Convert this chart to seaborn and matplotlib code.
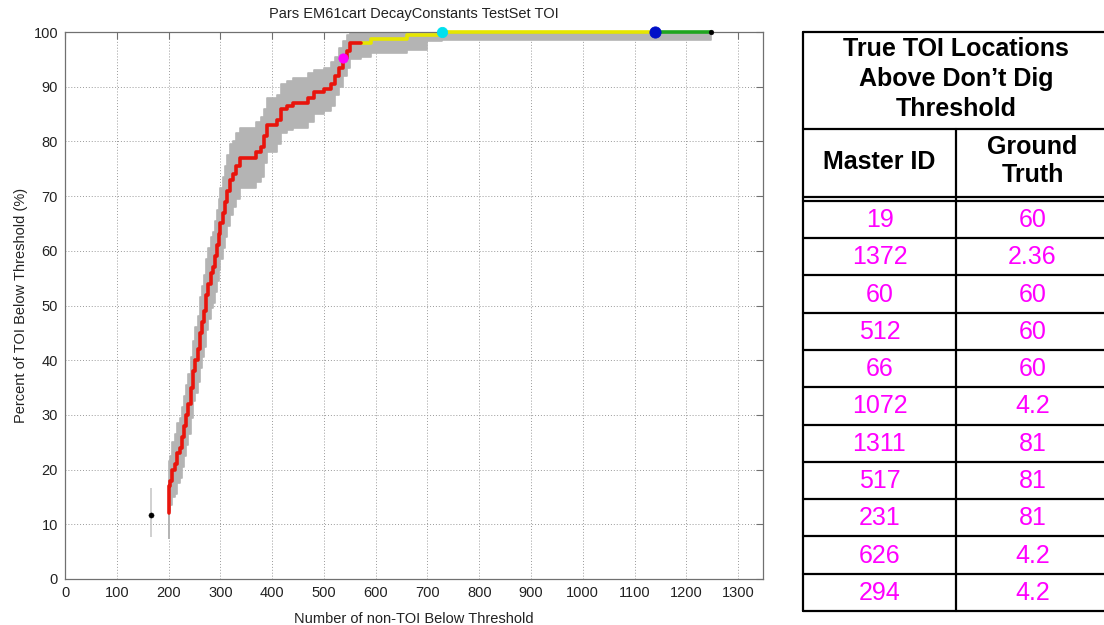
import numpy as np
import pandas as pd
import matplotlib
matplotlib.use("Agg")
import matplotlib.pyplot as plt
import seaborn as sns

# ---------------- data ----------------
red_x = [200, 200, 203, 207, 212, 216, 222, 225, 230, 234, 238, 243, 248, 252, 257,
         261, 265, 268, 272, 276, 281, 286, 290, 294, 297, 300, 305, 309, 313, 318,
         324, 330, 338, 360, 368, 378, 384, 390, 404, 410, 418, 428, 440, 470, 480,
         500, 513, 522, 530, 537, 545, 550, 572]
red_y = [12, 17, 18, 20, 21, 23, 24, 26, 28, 30, 32, 35, 38, 40, 42,
         45, 47, 49, 52, 54, 56, 57, 59, 61, 63, 65, 67, 69, 71, 73,
         74, 75.5, 77, 77, 78, 79, 81, 83, 83, 84, 86, 86.5, 87, 88, 89,
         89.5, 90.5, 92, 93.5, 95.2, 96.5, 98, 98]
red_lo = [7.5, 12.5, 13.5, 15, 15.5, 17.5, 18.5, 20.5, 22.5, 24.5, 26.5, 29.5, 32.5, 34, 36,
          38.5, 40.5, 42.5, 45.5, 47.5, 49.5, 50.5, 52.5, 54.5, 56.5, 58.5, 60.5, 62.5, 64.5, 66.5,
          68, 69.5, 71.5, 71.5, 72.5, 73.5, 76, 78, 78, 79.5, 81.5, 82, 82.5, 83.5, 85,
          85.5, 86.5, 88.5, 90, 92, 93.5, 95, 95.5]
red_hi = [16.5, 21.5, 22.5, 25, 26.5, 28.5, 29.5, 31.5, 33.5, 35.5, 37.5, 40.5, 43.5, 46, 48,
          51.5, 53.5, 55.5, 58.5, 60.5, 62.5, 63.5, 65.5, 67.5, 69.5, 71.5, 73.5, 75.5, 77.5, 79.5,
          80, 81.5, 82.5, 82.5, 83.5, 84.5, 86, 88, 88, 88.5, 90.5, 91, 91.5, 92.5, 93,
          93.5, 94.5, 95.5, 97, 98.4, 99.5, 100, 100]

yellow_x = [572, 591, 661, 700, 729, 1139]
yellow_y = [98, 98.7, 99.5, 99.5, 100, 100]
yellow_lo = [95.5, 96.2, 96.8, 98.4, 98.6, 98.6]
yellow_hi = [100, 100, 100, 100, 100, 100]

green_x = [1139, 1248]
green_y = [100, 100]
green_lo = [98.6, 98.6]
green_hi = [100, 100]

# special markers
marker_x = [537, 729, 1139, 1248]
marker_y = [95.2, 100, 100, 100]
marker_colors = ["#ff00ff", "#00e0ee", "#0010c8", "#000000"]
marker_sizes = [45, 55, 65, 12]

iso_x, iso_y, iso_lo, iso_hi = 166, 11.7, 7.7, 16.6

x_ticks = list(range(0, 1400, 100))
y_ticks = list(range(0, 110, 10))

table_title = "True TOI Locations\nAbove Don\u2019t Dig\nThreshold"
col_headers = ["Master ID", "Ground\nTruth"]
master_ids = ["19", "1372", "60", "512", "66", "1072", "1311", "517", "231", "626", "294"]
ground_truth = ["60", "2.36", "60", "60", "60", "4.2", "81", "81", "81", "4.2", "4.2"]

# ---------------- style ----------------
sns.set_style("white")
plt.rcParams["font.family"] = ["Liberation Sans", "DejaVu Sans"]

fig = plt.figure(figsize=(11.04, 6.25), dpi=100)
W, H = 1104, 625
ax = fig.add_axes([65 / W, (H - 579) / H, (763 - 65) / W, (579 - 32) / H])

# band
band_x = red_x + yellow_x[1:] + green_x[1:]
band_lo = red_lo + yellow_lo[1:] + green_lo[1:]
band_hi = red_hi + yellow_hi[1:] + green_hi[1:]
ax.fill_between(band_x, band_lo, band_hi, step="post", color="#b4b4b4",
                edgecolor="#b4b4b4", linewidth=1.2, zorder=2)

# isolated point with error bar
ax.errorbar([iso_x], [iso_y], yerr=[[iso_y - iso_lo], [iso_hi - iso_y]], fmt="none",
            ecolor="#c8c8c8", elinewidth=1.2, zorder=3)
sns.scatterplot(x=[iso_x], y=[iso_y], color="black", s=14, edgecolor="black",
                ax=ax, zorder=5, legend=False)

# lines
df_r = pd.DataFrame({"x": red_x, "y": red_y})
df_y = pd.DataFrame({"x": yellow_x, "y": yellow_y})
df_g = pd.DataFrame({"x": green_x, "y": green_y})
sns.lineplot(data=df_y, x="x", y="y", color="#e6e600", linewidth=2.6, sort=False,
             estimator=None, drawstyle="steps-post", ax=ax, zorder=4, clip_on=False)
sns.lineplot(data=df_g, x="x", y="y", color="#1fa51f", linewidth=2.6, sort=False,
             estimator=None, drawstyle="steps-post", ax=ax, zorder=4, clip_on=False)
sns.lineplot(data=df_r, x="x", y="y", color="#e8140c", linewidth=2.6, sort=False,
             estimator=None, drawstyle="steps-post", ax=ax, zorder=4, clip_on=False)

for mx, my, mc, ms in zip(marker_x, marker_y, marker_colors, marker_sizes):
    sns.scatterplot(x=[mx], y=[my], color=mc, s=ms, edgecolor=mc, ax=ax,
                    zorder=6, legend=False, clip_on=False)

ax.set_xlim(0, 1348)
ax.set_ylim(0, 100)
ax.set_xticks(x_ticks)
ax.set_yticks(y_ticks)
ax.grid(True, linestyle=(0, (1, 2)), color="#9a9a9a", linewidth=0.7)
ax.set_axisbelow(True)
ax.tick_params(direction="in", length=5, width=0.8, color="#707070",
               top=True, right=True, labelsize=10.5, labelcolor="#222222", pad=5)
for s in ax.spines.values():
    s.set_color("#707070")
    s.set_linewidth(0.9)
ax.set_xlabel("Number of non-TOI Below Threshold", fontsize=10.5, color="#222222", labelpad=9)
ax.set_ylabel("Percent of TOI Below Threshold (%)", fontsize=10.5, color="#222222", labelpad=4)
ax.set_title("Pars EM61cart DecayConstants TestSet TOI", fontsize=10.5, color="#222222", pad=10)

# ---------------- table ----------------
tx = fig.add_axes([0, 0, 1, 1], zorder=10)
tx.set_xlim(0, W)
tx.set_ylim(H, 0)
tx.axis("off")
tx.patch.set_alpha(0)

L, M, R = 803, 956, 1109
top, title_bot, head_bot = 31.5, 129, 196.8
row_top = 200.8
bottom = 611
row_h = (bottom - row_top) / len(master_ids)
lw = 1.6
fs = 18
tx.plot([L, R], [top, top], color="black", lw=lw)
tx.plot([L, L], [top, bottom], color="black", lw=lw)
tx.plot([L, R], [title_bot, title_bot], color="black", lw=lw)
tx.plot([L, R], [head_bot, head_bot], color="black", lw=lw)
tx.plot([M, M], [title_bot, bottom], color="black", lw=lw)
for i in range(len(master_ids) + 1):
    yy = row_top + i * row_h
    tx.plot([L, R], [yy, yy], color="black", lw=lw)

bold = dict(fontsize=fs, fontweight="bold", color="black", ha="center", va="center")
tx.text((L + R) / 2, 79, table_title, linespacing=1.3, **bold)
tx.text((L + M) / 2, 162, col_headers[0], **bold)
tx.text((M + R) / 2, 161, col_headers[1], linespacing=1.25, **bold)
for i, (mid, gt) in enumerate(zip(master_ids, ground_truth)):
    yc = row_top + (i + 0.5) * row_h
    tx.text((L + M) / 2, yc + 0.5, mid, fontsize=fs, color="#ff00ff", ha="center",
            va="center")
    tx.text((M + R) / 2, yc + 0.5, gt, fontsize=fs, color="#ff00ff", ha="center",
            va="center")

fig.savefig("out.png", dpi=100)
